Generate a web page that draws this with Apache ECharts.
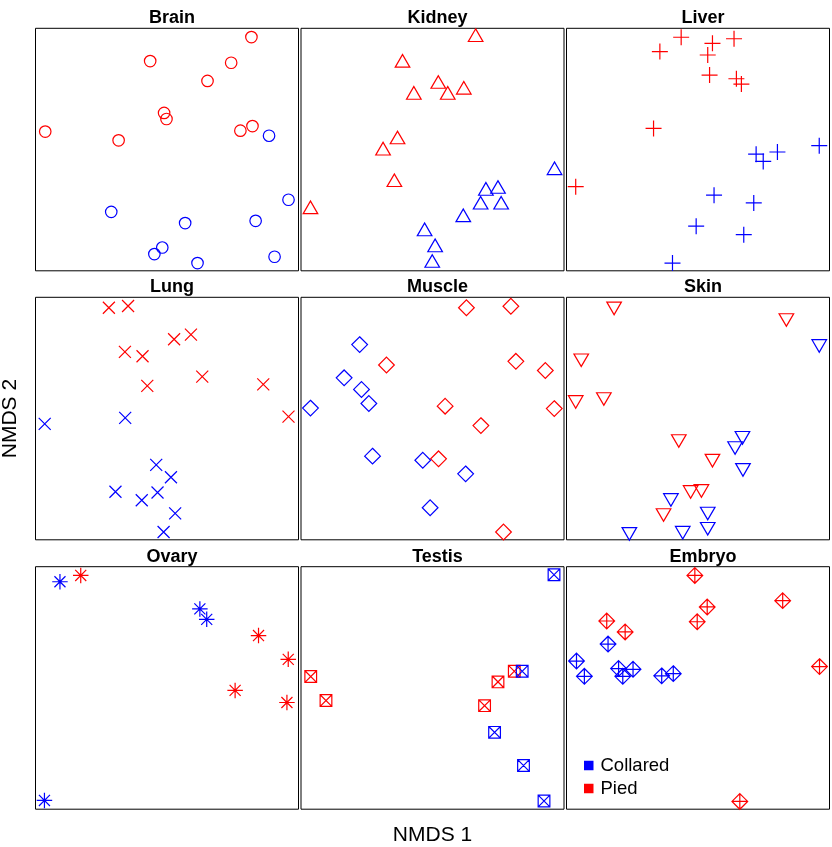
<!DOCTYPE html>
<html>
<head>
<meta charset="utf-8">
<script src="https://cdn.jsdelivr.net/npm/echarts@6/dist/echarts.min.js"></script>
<style>html,body{margin:0;padding:0;background:#fff;}#c{width:832px;height:847px;}</style>
</head>
<body>
<div id="c"></div>
<script>
// Tissue panels (row-major order)
var tissues = ['Brain', 'Kidney', 'Liver', 'Lung', 'Muscle', 'Skin', 'Ovary', 'Testis', 'Embryo'];
var groups = ['Collared', 'Pied'];
var xLabel = 'NMDS 1';
var yLabel = 'NMDS 2';

// NMDS scores (each panel's own scale, 0-100 box units)
var brainCollared = [[88.8,55.7],[96.2,29.3],[28.8,24.3],[56.9,19.7],[83.7,20.6],[48.2,9.6],[45.2,6.9],[61.6,3.2],[90.9,5.8]];
var brainPied = [[82.1,96.4],[43.6,86.5],[74.4,85.8],[65.4,78.3],[48.9,65.1],[49.8,62.6],[3.7,57.4],[31.6,53.8],[77.9,57.8],[82.5,59.7]];
var kidneyCollared = [[96.4,41.4],[70.3,32.9],[74.9,33.7],[68.3,27.2],[76.1,27.2],[61.7,22.0],[47.0,16.2],[51.0,9.6],[49.9,3.2]];
var kidneyPied = [[66.4,96.3],[38.6,85.7],[52.2,77.0],[42.9,72.5],[55.8,72.5],[61.9,74.6],[36.7,54.1],[31.2,49.5],[35.5,36.5],[3.6,25.3]];
var liverCollared = [[96.1,51.6],[80.2,49.0],[72.1,48.1],[74.8,45.1],[56.1,31.2],[71.2,28.0],[49.3,18.4],[67.4,14.9],[40.3,3.2]];
var liverPied = [[43.6,96.3],[55.5,93.8],[63.7,95.7],[35.5,90.4],[53.7,89.0],[54.4,80.7],[64.6,79.2],[66.5,77.0],[33.1,58.7],[3.5,34.7]];
var lungCollared = [[3.5,47.8],[34.1,50.3],[45.9,30.9],[51.5,25.8],[30.4,19.8],[46.4,19.5],[40.4,16.3],[53.1,10.9],[48.7,3.2]];
var lungPied = [[27.9,95.7],[35.2,96.4],[52.7,82.7],[59.1,84.6],[34.0,77.5],[40.7,75.7],[42.5,63.5],[63.4,67.3],[86.6,64.1],[96.2,50.8]];
var muscleCollared = [[22.3,80.5],[16.4,66.8],[23.0,62.0],[25.8,56.2],[3.6,54.3],[27.2,34.5],[46.3,32.8],[62.6,27.2],[49.1,13.2]];
var musclePied = [[62.9,95.7],[79.8,96.3],[32.5,72.1],[81.7,73.6],[92.9,69.8],[54.8,55.1],[96.3,54.1],[68.4,47.1],[52.3,33.4],[77.0,3.2]];
var skinCollared = [[96.1,80.8],[66.9,42.9],[64.1,38.7],[67.1,29.7],[39.7,17.3],[53.7,11.7],[53.7,5.4],[44.2,3.8],[23.9,3.3]];
var skinPied = [[18.1,96.3],[83.6,91.5],[5.6,74.9],[3.5,57.7],[14.2,58.9],[42.7,41.6],[55.5,33.5],[47.2,20.6],[51.3,21.0],[36.9,11.1]];
var ovaryCollared = [[9.3,93.8],[62.5,82.6],[65.1,78.3],[3.4,3.6]];
var ovaryPied = [[17.2,96.4],[84.8,71.6],[96.1,61.8],[75.9,49.0],[95.6,44.0]];
var testisCollared = [[96.2,96.7],[84.1,56.9],[73.6,31.7],[84.6,18.0],[92.4,3.4]];
var testisPied = [[3.7,54.7],[9.5,44.8],[81.1,56.9],[74.9,52.5],[69.8,42.7]];
var embryoCollared = [[15.8,68.1],[3.8,61.1],[6.8,54.8],[19.8,58.0],[25.3,57.7],[21.4,54.8],[36.2,55.0],[40.6,55.9]];
var embryoPied = [[48.8,96.4],[82.2,86.0],[53.5,83.4],[49.7,77.3],[15.3,77.6],[22.3,73.1],[96.2,58.8],[65.9,3.2]];

var collaredSets = [brainCollared, kidneyCollared, liverCollared, lungCollared, muscleCollared, skinCollared, ovaryCollared, testisCollared, embryoCollared];
var piedSets = [brainPied, kidneyPied, liverPied, lungPied, musclePied, skinPied, ovaryPied, testisPied, embryoPied];

// marker styles (R pch 1..9)
var markers = [
  {symbol: 'circle', size: 11.5, offset: [0, 0]},
  {symbol: 'triangle', size: [14.6, 12.6], offset: [0, -2.1]},
  {symbol: 'path://M0,8L16,8M8,0L8,16', size: 16, offset: [0, 0]},
  {symbol: 'path://M0,0L12,12M0,12L12,0', size: 12, offset: [0, 0]},
  {symbol: 'diamond', size: 15.7, offset: [0, 0]},
  {symbol: 'path://M0,0L14,0L7,12Z', size: [14.6, 12.6], offset: [0, 2.1]},
  {symbol: 'path://M0,8L16,8M8,0L8,16M2.3,2.3L13.7,13.7M2.3,13.7L13.7,2.3', size: 15.5, offset: [0, 0]},
  {symbol: 'path://M0,0L12,0L12,12L0,12ZM0,0L12,12M0,12L12,0', size: 11.7, offset: [0, 0]},
  {symbol: 'path://M8,0L16,8L8,16L0,8ZM8,0L8,16M0,8L16,8', size: 15.7, offset: [0, 0]}
];
var colors = {Collared: '#0000ff', Pied: '#ff0000'};

var colLeft = [35.5, 301, 566.5];
var rowTop = [28.3, 297.3, 566.7];
var pw = 263, ph = 242.5;

var grids = [], xAxes = [], yAxes = [], titles = [], series = [];
var FONT = '"Liberation Sans", Arial, Helvetica, sans-serif';

for (var i = 0; i < 9; i++) {
  var r = Math.floor(i / 3), c = i % 3;
  grids.push({left: colLeft[c], top: rowTop[r], width: pw, height: ph, show: true,
    borderColor: '#000', borderWidth: 1, backgroundColor: 'rgba(0,0,0,0)', containLabel: false,
    outerBoundsMode: 'none'});
  var xa = {gridIndex: i, type: 'value', min: 0, max: 100,
    axisLine: {show: false}, axisTick: {show: false}, axisLabel: {show: false}, splitLine: {show: false}};
  var ya = {gridIndex: i, type: 'value', min: 0, max: 100,
    axisLine: {show: false}, axisTick: {show: false}, axisLabel: {show: false}, splitLine: {show: false}};
  if (i === 7) {
    xa.name = xLabel; xa.nameLocation = 'middle'; xa.nameGap = 16;
    xa.nameTextStyle = {fontFamily: FONT, fontSize: 21, color: '#000', verticalAlign: 'top'};
  }
  if (i === 3) {
    ya.name = yLabel; ya.nameLocation = 'middle'; ya.nameGap = 15; ya.nameRotate = 90;
    ya.nameTextStyle = {fontFamily: FONT, fontSize: 21, color: '#000'};
  }
  xAxes.push(xa); yAxes.push(ya);
  titles.push({text: tissues[i], left: colLeft[c] + pw / 2, top: rowTop[r] - 24, textAlign: 'center',
    textStyle: {fontFamily: FONT, fontSize: 18, fontWeight: 'bold', color: '#000'}});
  var m = markers[i];
  var sets = {Pied: piedSets[i], Collared: collaredSets[i]};
  ['Pied', 'Collared'].forEach(function (g) {
    series.push({type: 'scatter', name: g, xAxisIndex: i, yAxisIndex: i, data: sets[g],
      symbol: m.symbol, symbolSize: m.size, symbolOffset: m.offset,
      itemStyle: {color: 'rgba(0,0,0,0)', borderColor: colors[g], borderWidth: 1.2, opacity: 1},
      emphasis: {disabled: true}, silent: true, animation: false});
  });
}

var chart = echarts.init(document.getElementById('c'), null, {renderer: 'canvas'});
chart.setOption({
  backgroundColor: '#fff',
  animation: false,
  title: titles,
  grid: grids,
  xAxis: xAxes,
  yAxis: yAxes,
  legend: {
    orient: 'vertical', left: 579, top: 751, selectedMode: false,
    icon: 'rect', itemWidth: 9.5, itemHeight: 9.5, itemGap: 4,
    textStyle: {fontFamily: FONT, fontSize: 18.5, color: '#000', padding: [0, 0, 0, 2]},
    data: [
      {name: groups[0], itemStyle: {color: colors.Collared, borderWidth: 0}},
      {name: groups[1], itemStyle: {color: colors.Pied, borderWidth: 0}}
    ]
  },
  series: series
});
</script>
</body>
</html>
